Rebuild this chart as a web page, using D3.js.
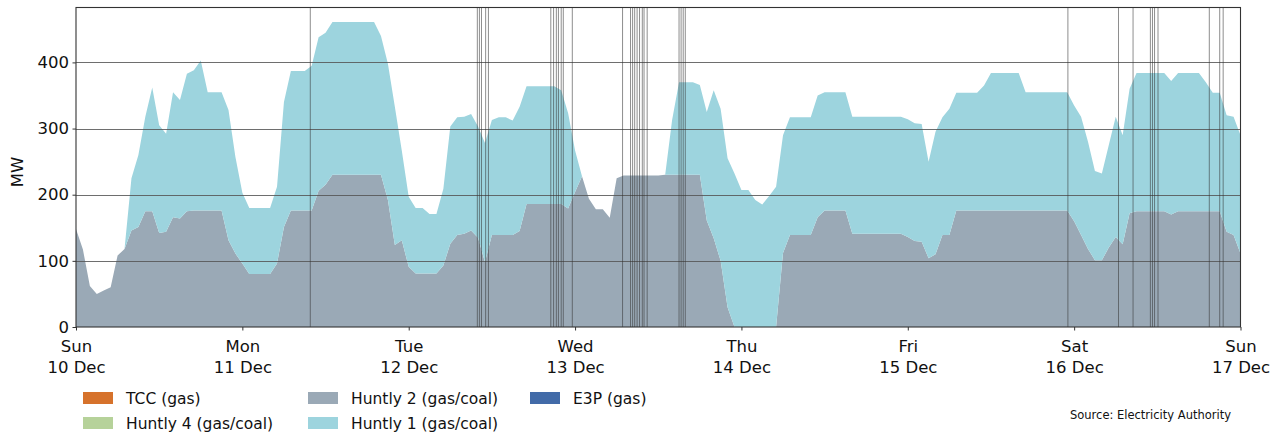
<!DOCTYPE html>
<html><head><meta charset="utf-8">
<script src="https://cdn.jsdelivr.net/npm/d3@7"></script>
<style>
body{margin:0;background:#fff;}
svg{display:block;font-family:"DejaVu Sans",sans-serif;}
</style>
</head><body>
<svg id="chart" width="1287" height="434"></svg>
<script>
// ---- data (hourly, MW) ----
const startDate = "2023-12-10T00:00:00Z";
const endDate = "2023-12-17T00:00:00Z";

const huntly2 = [
148,117,62,50,55,60,108,118,146,151,175,175,142,144,166,164,175,176,176,176,176,176,131,111,
96,80,80,80,80,96,151,176,176,176,176,206,215,230,230,230,230,230,230,230,230,192,124,131,
91,81,81,81,81,93,126,139,141,146,135,98,139,139,139,139,145,186,186,186,186,186,186,179,
204,228,194,178,178,165,225,229,229,229,229,229,229,230,230,230,230,230,230,161,134,100,30,0,
0,0,0,0,0,0,112,139,139,139,139,166,176,176,176,176,141,141,141,141,141,141,141,141,
136,130,129,104,110,139,139,176,176,176,176,176,176,176,176,176,176,176,176,176,176,176,176,176,
160,139,118,101,101,120,136,125,172,175,175,175,175,175,170,175,175,175,175,175,175,175,144,139,
111];

const huntly1 = [
0,0,0,0,0,0,0,0,79,109,143,187,163,148,189,179,208,212,227,179,179,179,197,146,
107,100,100,100,100,116,189,211,211,211,219,232,230,231,231,231,231,231,231,231,210,206,209,136,
106,99,99,90,90,116,177,178,177,176,168,180,174,178,178,173,188,178,178,178,178,178,172,144,
63,0,0,0,0,0,0,0,0,0,0,0,0,0,83,140,140,140,136,164,224,230,225,232,
207,207,192,185,198,212,178,178,178,178,178,184,179,179,179,179,177,177,177,177,177,177,177,177,
178,178,178,146,185,178,191,178,178,178,178,189,208,208,208,208,208,179,179,179,179,179,179,179,
175,179,162,135,131,155,182,165,188,209,209,209,209,209,202,209,209,209,209,195,179,179,176,179,
179];

// hours after start at which marker lines are drawn
const eventHours = [33.8, 57.9, 58.2, 58.5, 59.1, 59.5,
  68.5, 68.9, 69.3, 69.6, 70.0, 70.3, 71.6,
  78.85, 80.0, 80.3, 80.6, 80.95, 81.3, 81.7, 81.95, 82.4,
  87.0, 87.3, 87.6, 87.9,
  143.1, 150.4, 152.5, 155.0, 155.3, 155.6, 156.1, 163.5, 165.0, 165.5];

const yTicks = [0, 100, 200, 300, 400];
const yMax = 483;

const seriesKeys = ["Huntly 2 (gas/coal)", "Huntly 1 (gas/coal)"];
const seriesColors = ["#9aa9b6", "#9dd4de"];

const legendNames = ["TCC (gas)", "Huntly 4 (gas/coal)", "Huntly 2 (gas/coal)", "Huntly 1 (gas/coal)", "E3P (gas)"];
const legendColors = ["#d6722b", "#b6d29a", "#9aa9b6", "#9dd4de", "#426ba8"];

const sourceText = "Source: Electricity Authority";

// ---- layout ----
const svg = d3.select("#chart");
const L = 76, R = 1240.5, T = 7.5, B = 327;

const t0 = new Date(startDate), t1 = new Date(endDate);
const x = d3.scaleUtc().domain([t0, t1]).range([L, R]);
const y = d3.scaleLinear().domain([0, yMax]).range([B, T]);

const rows = huntly2.map((v, i) => ({
  t: d3.utcHour.offset(t0, i),
  [seriesKeys[0]]: v,
  [seriesKeys[1]]: huntly1[i]
}));

const stacked = d3.stack().keys(seriesKeys)(rows);
const area = d3.area()
  .x(d => x(d.data.t))
  .y0(d => y(d[0]))
  .y1(d => y(d[1]));

svg.append("defs").append("clipPath").attr("id", "clip")
  .append("rect").attr("x", L).attr("y", T).attr("width", R - L).attr("height", B - T);

const plot = svg.append("g").attr("clip-path", "url(#clip)");
plot.selectAll("path.area").data(stacked).join("path")
  .attr("class", "area")
  .attr("fill", (d, i) => seriesColors[i])
  .attr("d", area);

// horizontal grid
svg.append("g").selectAll("line").data(yTicks.filter(v => v > 0)).join("line")
  .attr("x1", L).attr("x2", R)
  .attr("y1", d => Math.round(y(d)) + 0.5).attr("y2", d => Math.round(y(d)) + 0.5)
  .attr("stroke", "#555").attr("stroke-width", 1).attr("opacity", 0.85);

// event lines
svg.append("g").selectAll("line").data(eventHours).join("line")
  .attr("x1", d => x(new Date(+t0 + d * 3600e3)))
  .attr("x2", d => x(new Date(+t0 + d * 3600e3)))
  .attr("y1", T).attr("y2", B)
  .attr("stroke", "#333").attr("stroke-width", 1).attr("opacity", 0.55);

// frame
svg.append("rect").attr("x", L).attr("y", T).attr("width", R - L).attr("height", B - T)
  .attr("fill", "none").attr("stroke", "#333").attr("stroke-width", 1.1);

// axes
const yAxis = svg.append("g").attr("transform", `translate(${L},0)`)
  .call(d3.axisLeft(y).tickValues(yTicks).tickSize(3.5).tickPadding(3.5).tickFormat(d3.format("d")));
yAxis.select(".domain").remove();
yAxis.selectAll("text").attr("font-size", "16.5px").attr("fill", "#111").attr("font-family", "DejaVu Sans");
yAxis.selectAll("line").attr("stroke", "#333");

const dayTicks = d3.utcDay.range(t0, d3.utcDay.offset(t1, 1));
const xAxis = svg.append("g").attr("transform", `translate(0,${B})`)
  .call(d3.axisBottom(x).tickValues(dayTicks).tickSize(3.5).tickFormat(""));
xAxis.select(".domain").remove();
xAxis.selectAll("line").attr("stroke", "#333");
const fmtA = d3.utcFormat("%a"), fmtB = d3.utcFormat("%-d %b");
xAxis.selectAll(".tick").append("text")
  .attr("text-anchor", "middle").attr("font-size", "16.5px").attr("fill", "#111")
  .attr("font-family", "DejaVu Sans")
  .each(function(d) {
    const s = d3.select(this);
    s.append("tspan").attr("x", 0).attr("y", 25).text(fmtA(d));
    s.append("tspan").attr("x", 0).attr("y", 46).text(fmtB(d));
  });

// y label
svg.append("text").attr("transform", `translate(23,172) rotate(-90)`)
  .attr("text-anchor", "middle").attr("font-size", "16.5px").attr("fill", "#111").text("MW");

// legend
const legPos = [[83, 392], [83, 417], [308, 392], [308, 417], [530, 392]];
const leg = svg.append("g");
legendNames.forEach((n, i) => {
  const [lx, ly] = legPos[i];
  leg.append("rect").attr("x", lx).attr("y", ly).attr("width", 30).attr("height", 12)
    .attr("fill", legendColors[i]);
  leg.append("text").attr("x", lx + 43).attr("y", ly + 12)
    .attr("font-size", "15.5px").attr("fill", "#111").text(n);
});

svg.append("text").attr("x", 1231).attr("y", 419).attr("text-anchor", "end")
  .attr("font-size", "11.5px").attr("fill", "#111").text(sourceText);
</script>
</body></html>
